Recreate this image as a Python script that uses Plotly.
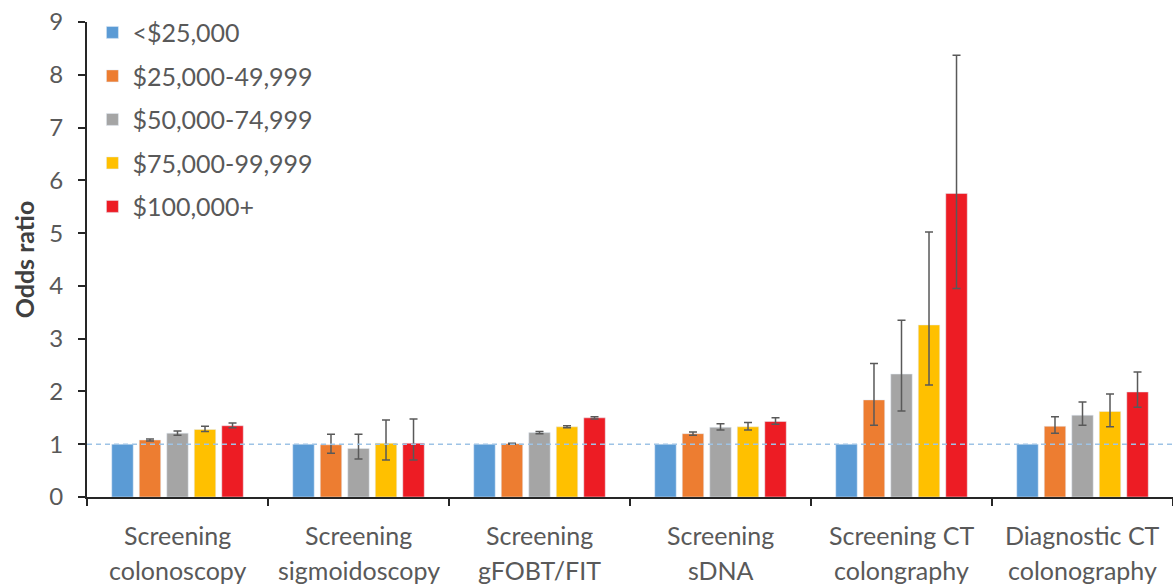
import plotly.graph_objects as go

categories = ["Screening colonoscopy", "Screening sigmoidoscopy", "Screening gFOBT/FIT",
              "Screening sDNA", "Screening CT colongraphy", "Diagnostic CT colonography"]
label_line1 = ["Screening", "Screening", "Screening", "Screening", "Screening CT", "Diagnostic CT"]
label_line2 = ["colonoscopy", "sigmoidoscopy", "gFOBT/FIT", "sDNA", "colongraphy", "colonography"]

series_names = ["<$25,000", "$25,000-49,999", "$50,000-74,999", "$75,000-99,999", "$100,000+"]
series_colors = ["#5B9BD5", "#ED7D31", "#A5A5A5", "#FFC000", "#ED1C24"]

or_lt25k = [1.0, 1.0, 1.0, 1.0, 1.0, 1.0]
or_25_50k = [1.08, 0.99, 1.01, 1.20, 1.84, 1.34]
or_50_75k = [1.21, 0.92, 1.22, 1.32, 2.33, 1.55]
or_75_100k = [1.28, 1.02, 1.33, 1.33, 3.26, 1.62]
or_100k = [1.35, 1.02, 1.50, 1.43, 5.75, 1.99]

lo_lt25k = [1.0, 1.0, 1.0, 1.0, 1.0, 1.0]
hi_lt25k = [1.0, 1.0, 1.0, 1.0, 1.0, 1.0]
lo_25_50k = [1.06, 0.83, 1.00, 1.17, 1.36, 1.21]
hi_25_50k = [1.10, 1.19, 1.02, 1.23, 2.53, 1.52]
lo_50_75k = [1.17, 0.72, 1.20, 1.27, 1.63, 1.36]
hi_50_75k = [1.25, 1.19, 1.24, 1.39, 3.35, 1.80]
lo_75_100k = [1.24, 0.70, 1.31, 1.27, 2.12, 1.33]
hi_75_100k = [1.34, 1.46, 1.35, 1.41, 5.02, 1.95]
lo_100k = [1.31, 0.70, 1.48, 1.38, 3.95, 1.70]
hi_100k = [1.40, 1.48, 1.52, 1.50, 8.37, 2.37]

reference_or = 1.0
y_ticks = [0, 1, 2, 3, 4, 5, 6, 7, 8, 9]

values = [or_lt25k, or_25_50k, or_50_75k, or_75_100k, or_100k]
lows = [lo_lt25k, lo_25_50k, lo_50_75k, lo_75_100k, lo_100k]
highs = [hi_lt25k, hi_25_50k, hi_50_75k, hi_75_100k, hi_100k]

FONT = "Lato"
TXT = "#595959"

fig = go.Figure()
for name, color, v, lo, hi in zip(series_names, series_colors, values, lows, highs):
    show_err = name != "<$25,000"
    fig.add_trace(go.Bar(
        name=name, x=categories, y=v, marker_color=color,
        legendgroup=name,
        error_y=dict(type="data", symmetric=False,
                     array=[h - a for h, a in zip(hi, v)],
                     arrayminus=[a - l for l, a in zip(lo, v)],
                     color="#595959", thickness=1.5, width=4, visible=show_err),
    ))

fig.add_shape(type="line", xref="paper", yref="y", x0=0, x1=1, y0=reference_or, y1=reference_or,
              line=dict(color="#9DC3E6", width=1.5, dash="5px,4px"), layer="above")

for c, l1, l2 in zip(categories, label_line1, label_line2):
    fig.add_annotation(x=c, xref="x", yref="paper", y=-0.08, text=l1, showarrow=False,
                       yanchor="middle", font=dict(family=FONT, size=25, color=TXT))
    fig.add_annotation(x=c, xref="x", yref="paper", y=-0.154, text=l2, showarrow=False,
                       yanchor="middle", font=dict(family=FONT, size=25, color=TXT))

fig.update_layout(
    width=1173, height=584,
    margin=dict(l=87, r=0, t=22, b=87),
    plot_bgcolor="white", paper_bgcolor="white",
    barmode="group", bargap=0.24, bargroupgap=0.22,
    font=dict(family=FONT, size=24, color=TXT),
    legend=dict(x=0.005, y=1.026, xanchor="left", yanchor="top", traceorder="grouped",
                tracegroupgap=8, font=dict(family=FONT, size=25, color=TXT),
                bgcolor="rgba(0,0,0,0)"),
    xaxis=dict(showticklabels=False, tickson="boundaries", ticks="outside", ticklen=7,
               tickwidth=2, tickcolor="#262626", showline=True, linecolor="#262626",
               linewidth=2, showgrid=False, zeroline=False),
    yaxis=dict(range=[0, 9], tickvals=y_ticks, ticks="outside", ticklen=7, tickwidth=2,
               tickcolor="#262626", showline=True, linecolor="#262626", linewidth=2,
               showgrid=False, zeroline=False, ticklabelstandoff=10, automargin=False,
               tickfont=dict(family=FONT, size=24, color=TXT),
               title=dict(text="<b>Odds ratio</b>", font=dict(family=FONT, size=25, color="#404040"),
                          standoff=8)),
)

fig.write_html("out.html", config={"displayModeBar": False},
               post_script="document.body.style.margin='0';")
